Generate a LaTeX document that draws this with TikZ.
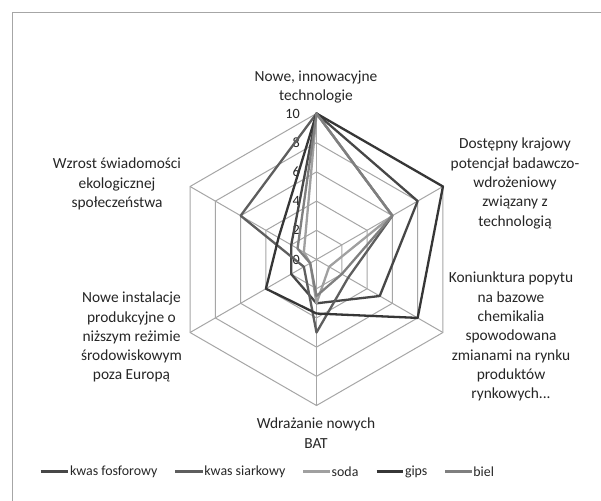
\documentclass[tikz,border=0pt]{standalone}
\usepackage{fontspec}
\setmainfont{Carlito}
\definecolor{gridc}{HTML}{A6A6A6}
\definecolor{framec}{HTML}{A6A6A6}
\definecolor{txtc}{HTML}{262626}
\definecolor{cfos}{HTML}{474747}
\definecolor{csiar}{HTML}{5E5E5E}
\definecolor{csoda}{HTML}{A0A0A0}
\definecolor{cgips}{HTML}{363636}
\definecolor{cbiel}{HTML}{7F7F7F}
\def\rU{14.6}
\newcommand\radarline[7]{\draw[serie,#1] (-90:#2*\rU) -- (-30:#3*\rU) -- (30:#4*\rU) -- (90:#5*\rU) -- (150:#6*\rU) -- (210:#7*\rU) -- cycle;}
\begin{document}
\begin{tikzpicture}[x=1pt,y=-1pt,
  gridline/.style={draw=gridc, line width=1pt},
  serie/.style={line width=2.3pt, line join=round},
  lbl/.style={font=\fontsize{15.4}{19.3}\selectfont, text=txtc, align=center, inner sep=0pt},
  tick/.style={font=\fontsize{14.2}{16}\selectfont, text=txtc, anchor=east, inner sep=0pt},
  legline/.style={line width=2.6pt},
  legtext/.style={font=\fontsize{13.9}{16}\selectfont, text=txtc, anchor=west, inner sep=0pt}]
\clip (0,0) rectangle (601,500);
\fill[white] (0,0) rectangle (601,500);
\draw[framec, line width=1.5pt] (12.5,12.5) rectangle (640,540);
\coordinate (C) at (316.5,259.5);
\begin{scope}[shift={(C)}]
  \foreach \v in {2,4,...,10}
    \draw[gridline] (-90:\v*\rU) -- (-30:\v*\rU) -- (30:\v*\rU) -- (90:\v*\rU) -- (150:\v*\rU) -- (210:\v*\rU) -- cycle;
  \foreach \a in {-90,-30,30,90,150,210}
    \draw[gridline] (0,0) -- (\a:10*\rU);
\end{scope}
\foreach \v in {0,2,...,10}
  \node[tick] (t\v) at (300,{259.5-\v*14.6}) {\v};
\begin{scope}[shift={(C)}]
  \radarline{cfos}{10}{8}{5}{3}{2}{2}
  \radarline{csiar}{10}{6}{2.5}{5}{1}{6}
  \radarline{csoda}{10}{6}{1}{3}{0.5}{1}
  \radarline{cgips}{10}{10}{8}{3.7}{4}{3}
  \radarline{cbiel}{10}{6}{2}{2.5}{0.5}{1.5}
\end{scope}
\node[lbl] (ax1) at (316,86.7) {Nowe, innowacyjne\\technologie};
\node[lbl] (ax2) at (515,183.5) {Dostępny krajowy\\potencjał badawczo-\\wdrożeniowy\\związany z\\technologią};
\node[lbl] (ax3) at (511,336.7) {Koniunktura popytu\\na bazowe\\chemikalia\\spowodowana\\zmianami na rynku\\produktów\\rynkowych...};
\node[lbl] (ax4) at (316,433) {Wdrażanie nowych\\BAT};
\node[lbl] (ax5) at (131.5,337.2) {Nowe instalacje\\produkcyjne o\\niższym reżimie\\środowiskowym\\poza Europą};
\node[lbl] (ax6) at (117,184) {Wzrost świadomości\\ekologicznej\\społeczeństwa};
\coordinate (l1a) at (40.7,471.7); \coordinate (l1b) at (68.3,471.7);
\coordinate (l2a) at (175,471.7); \coordinate (l2b) at (202.7,471.7);
\coordinate (l3a) at (303.3,471.7); \coordinate (l3b) at (330,471.7);
\coordinate (l4a) at (376.7,471.7); \coordinate (l4b) at (403.3,471.7);
\coordinate (l5a) at (445,471.7); \coordinate (l5b) at (471.7,471.7);
\draw[legline,cfos] (l1a) -- (l1b);
\draw[legline,csiar] (l2a) -- (l2b);
\draw[legline,csoda] (l3a) -- (l3b);
\draw[legline,cgips] (l4a) -- (l4b);
\draw[legline,cbiel] (l5a) -- (l5b);
\node[legtext] (k1) at ([xshift=1.5pt]l1b) {kwas fosforowy};
\node[legtext] (k2) at ([xshift=1.5pt]l2b) {kwas siarkowy};
\node[legtext] (k3) at ([xshift=1.5pt]l3b) {soda};
\node[legtext] (k4) at ([xshift=1.5pt]l4b) {gips};
\node[legtext] (k5) at ([xshift=1.5pt]l5b) {biel};
\end{tikzpicture}
\end{document}
